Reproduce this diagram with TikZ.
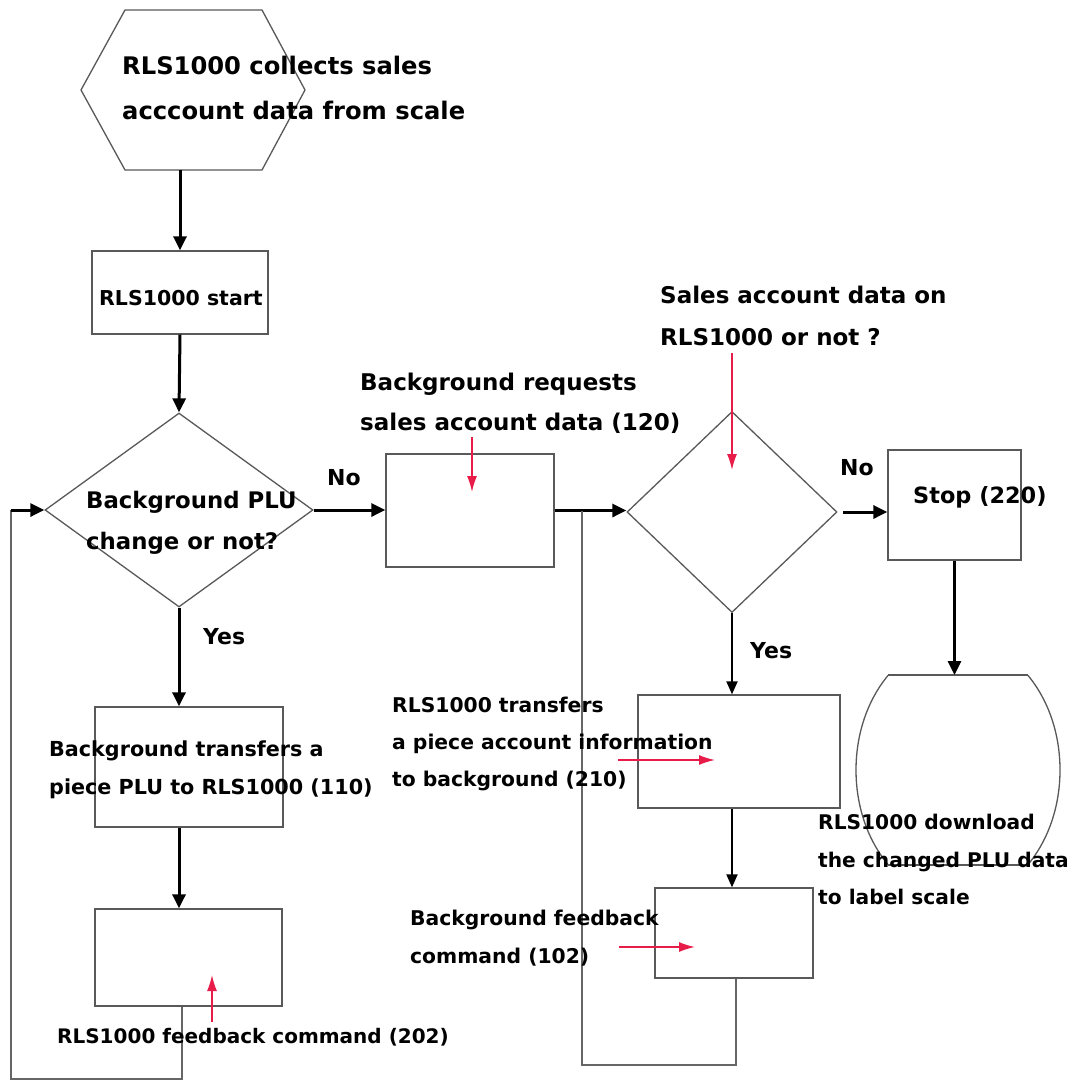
\documentclass[tikz,border=0pt]{standalone}
\usepackage{fontspec}
\setmainfont{DejaVu Sans}
\usetikzlibrary{shapes.geometric,arrows.meta,calc}
\definecolor{notered}{RGB}{232,28,72}
\newcommand\fsz[2]{\fontsize{#1}{#2}\selectfont\bfseries}
\begin{document}
\begin{tikzpicture}[x=1pt,y=-1pt,
  shp/.style={draw=black!65, line width=1.3pt},
  box/.style={shp, rectangle, inner sep=0pt},
  dia/.style={shp, diamond, inner sep=0pt},
  txt/.style={font=\fsz{20.5}{38}, align=left, anchor=west, inner sep=0pt},
  flow/.style={line width=3pt, -{Triangle[length=14pt,width=13pt]}},
  mid/.style={line width=2pt, -{Triangle[length=13pt,width=11pt]}},
  loopline/.style={draw=black!60, line width=1.5pt},
  note/.style={draw=notered, line width=1.5pt, -{Latex[length=16pt,width=10pt]}, notered},
]
\fill[white] (0,0) rectangle (1078,1081);
\useasboundingbox (0,0) rectangle (1078,1081);

% hexagon
\draw[shp] (125,10) -- (262,10) -- (305,90) -- (262,170) -- (125,170) -- (81,90) -- cycle;
\coordinate (hexbot) at (180,170);

% boxes
\node[box, minimum width=176pt, minimum height=83pt] (start) at (180,292.5) {};
\node[box, minimum width=188pt, minimum height=120pt] (box110) at (189,767) {};
\node[box, minimum width=187pt, minimum height=97pt] (box202) at (188.5,957.5) {};
\node[box, minimum width=168pt, minimum height=113pt] (box120) at (470,510.5) {};
\node[box, minimum width=133pt, minimum height=110pt] (stop) at (954.5,505) {};
\node[box, minimum width=202pt, minimum height=113pt] (box210) at (739,751.5) {};
\node[box, minimum width=158pt, minimum height=90pt] (box102) at (734,933) {};

% diamonds
\node[dia, aspect=1.38, minimum width=268pt, minimum height=194pt] (d1) at (179,510) {};
\node[dia, aspect=1.04, minimum width=210pt, minimum height=201pt] (d2) at (732,512) {};

% barrel
\begin{scope}
\clip (840,675) rectangle (1075,865);
\draw[shp] (958,770) ellipse [x radius=102pt, y radius=130pt];
\end{scope}
\draw[shp] (888,675) -- (1028,675);
\draw[shp] (888,865) -- (1028,865);
\coordinate (barreltop) at (956,675);

% main flow
\draw[flow] (hexbot) -- (start.north);
\draw[flow] (start.south) -- (d1.north);
\draw[flow] (d1.south) -- (d1.south |- box110.north);
\draw[flow] (d1.south |- box110.south) -- (d1.south |- box202.north);
\draw[flow] (d1.east) -- (d1.east -| box120.west);
\draw[flow] (box120.east) -- (box120.east -| d2.west);
\coordinate (gap) at (843,512);
\draw[flow] (gap) -- (gap -| stop.west);
\draw[flow] (stop.south) -- (stop.south |- barreltop);
\draw[mid] (d2.south) -- (d2.south |- box210.north);
\draw[mid] (d2.south |- box210.south) -- (d2.south |- box102.north);

% loops
\coordinate (L1a) at (182,1079);
\coordinate (L1b) at (11,1079);
\draw[loopline] (box202.south -| L1a) -- (L1a) -- (L1b) -- (L1b |- d1.west);
\draw[flow] (L1b |- d1.west) -- (d1.west);
\coordinate (L2a) at (736,1065);
\coordinate (L2b) at (582,1065);
\draw[loopline] (box102.south -| L2a) -- (L2a) -- (L2b) -- (L2b |- box120.east);

% red note arrows
\coordinate (r1s) at (472,437); \coordinate (r1e) at (472,492);
\coordinate (r2s) at (732,353); \coordinate (r2e) at (732,470);
\coordinate (r3s) at (618,760); \coordinate (r3e) at (715,760);
\coordinate (r4s) at (619,947); \coordinate (r4e) at (695,947);
\coordinate (r5s) at (212,1022); \coordinate (r5e) at (212,975);
\draw[note] (r1s) -- (r1e);
\draw[note] (r2s) -- (r2e);
\draw[note] (r3s) -- (r3e);
\draw[note] (r4s) -- (r4e);
\draw[note] (r5s) -- (r5e);

% texts
\node[txt, font=\fsz{24.2}{45}] (thex) at (122,87.5) {RLS1000 collects sales\\acccount data from scale};
\node[txt] (tstart) at (99,298) {RLS1000 start};
\node[txt, font=\fsz{22.8}{41}] (td1) at (86,522.5) {Background PLU\\change or not?};
\node[txt, font=\fsz{23}{40}] (t120) at (360,403) {Background requests\\sales account data (120)};
\node[txt, font=\fsz{23}{42}] (td2) at (660,316) {Sales account data on\\RLS1000 or not ?};
\node[txt, font=\fsz{22.4}{38}] (tstop) at (913,497) {Stop (220)};
\node[txt, font=\fsz{20.7}{38}] (t110) at (49,770) {Background transfers a\\piece PLU to RLS1000 (110)};
\node[txt, font=\fsz{20.3}{37}] (t210) at (392,744) {RLS1000 transfers\\a piece account information\\to background (210)};
\node[txt, font=\fsz{20.3}{38}] (t102) at (410,938) {Background feedback\\command (102)};
\node[txt, font=\fsz{20}{38}] (t202) at (57,1037) {RLS1000 feedback command (202)};
\node[txt, font=\fsz{20.2}{37.5}] (tdl) at (818,859.5) {RLS1000 download\\the changed PLU data\\to label scale};
\node[txt, font=\fsz{22}{38}] (no1) at (327,478) {No};
\node[txt, font=\fsz{22}{38}] (no2) at (840,468) {No};
\node[txt, font=\fsz{22}{38}] (yes1) at (203,637) {Yes};
\node[txt, font=\fsz{22}{38}] (yes2) at (750,651) {Yes};
\end{tikzpicture}
\end{document}
